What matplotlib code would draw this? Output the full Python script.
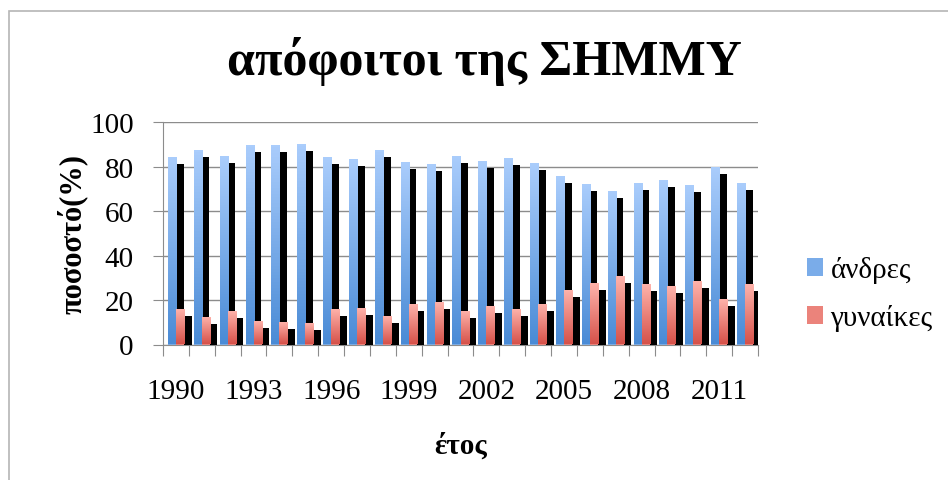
import matplotlib
matplotlib.use("Agg")
import matplotlib.pyplot as plt
import matplotlib.patheffects as pe
from matplotlib.patches import Rectangle
from matplotlib.colors import LinearSegmentedColormap
import numpy as np

years = list(range(1990, 2013))
men = [84.4, 87.5, 84.8, 89.8, 89.8, 90.2, 84.4, 83.5, 87.5, 82.1, 81.2, 84.8,
       82.6, 83.9, 81.7, 75.8, 72.2, 69.1, 72.7, 74.0, 71.8, 79.9, 72.7]
women = [15.9, 12.3, 15.0, 10.5, 10.0, 9.6, 15.9, 16.3, 12.7, 18.1, 19.0, 15.0,
         17.3, 15.9, 18.1, 24.5, 27.6, 30.8, 27.2, 26.3, 28.5, 20.4, 27.2]
series_names = ["άνδρες", "γυναίκες"]

plt.rcParams['font.family'] = ['Liberation Serif', 'DejaVu Serif']

blue_cm = LinearSegmentedColormap.from_list("b", ["#4a8bd6", "#aacdfc"])
red_cm = LinearSegmentedColormap.from_list("r", ["#d6524a", "#ffb4ac"])

fig = plt.figure(figsize=(9.48, 4.81), dpi=100)
ax = fig.add_axes([163/948, 1-345.5/481, (758-163)/948, (345.5-123.3)/481])

x = np.arange(len(years))
w = 0.31
shadow = [pe.SimplePatchShadow(offset=(5.5, -5), shadow_rgbFace='black', alpha=1.0), pe.Normal()]
grad = np.linspace(0, 1, 64).reshape(-1, 1)

def draw(vals, xs, cmap, z):
    bars = ax.bar(xs, vals, w, color=cmap(0.5), zorder=z, path_effects=shadow, linewidth=0)
    for b in bars:
        im = ax.imshow(grad, cmap=cmap, origin='lower', aspect='auto', zorder=z + 0.5,
                       extent=(b.get_x(), b.get_x() + b.get_width(), 0, b.get_height()))
        im.set_clip_path(b)
    return bars

b1 = draw(men, x - w/2, blue_cm, 2)
b2 = draw(women, x + w/2, red_cm, 3)

ax.set_xlim(-0.5, len(years) - 0.5)
ax.set_ylim(0, 100)
ax.set_yticks(range(0, 101, 20))
ax.grid(axis='y', color='#8c8c8c', linewidth=1.0)
ax.set_axisbelow(True)
for s in ['top', 'right']:
    ax.spines[s].set_visible(False)
for s in ['left', 'bottom']:
    ax.spines[s].set_color('#8c8c8c')
ax.set_xticks(np.arange(-0.5, len(years), 1.0))
ax.set_xticklabels([])
ax.set_xticks(x[::3], [str(y) for y in years[::3]], minor=True)
ax.tick_params(axis='x', which='major', length=8, color='#8c8c8c')
ax.tick_params(axis='x', which='minor', length=0, labelsize=21, pad=24)
ax.tick_params(axis='y', length=7, color='#8c8c8c', labelsize=21, pad=14)

ax.set_xlabel("έτος", fontsize=21, fontweight='bold', labelpad=20)
ax.set_ylabel("ποσοστό(%)", fontsize=22, fontweight='bold', labelpad=2)

fig.text(484/948, 1-62/481, "απόφοιτοι της ΣΗΜΜΥ", ha='center', va='center',
         fontsize=36, fontweight='bold')

leg = fig.legend([b1[0], b2[0]], series_names, loc='center left',
                 bbox_to_anchor=(781/948, 1-295/481), frameon=False, fontsize=21,
                 handlelength=0.55, handleheight=0.55, handletextpad=0.25, labelspacing=0.72)
for h in leg.legend_handles:
    h.set_path_effects([])

fig.patches.append(Rectangle((9/948, -0.1), 1.2, 1.1 - 12/481, transform=fig.transFigure,
                             fill=False, edgecolor='#b5b5b5', linewidth=1.2))

fig.savefig("out.png", dpi=100)
